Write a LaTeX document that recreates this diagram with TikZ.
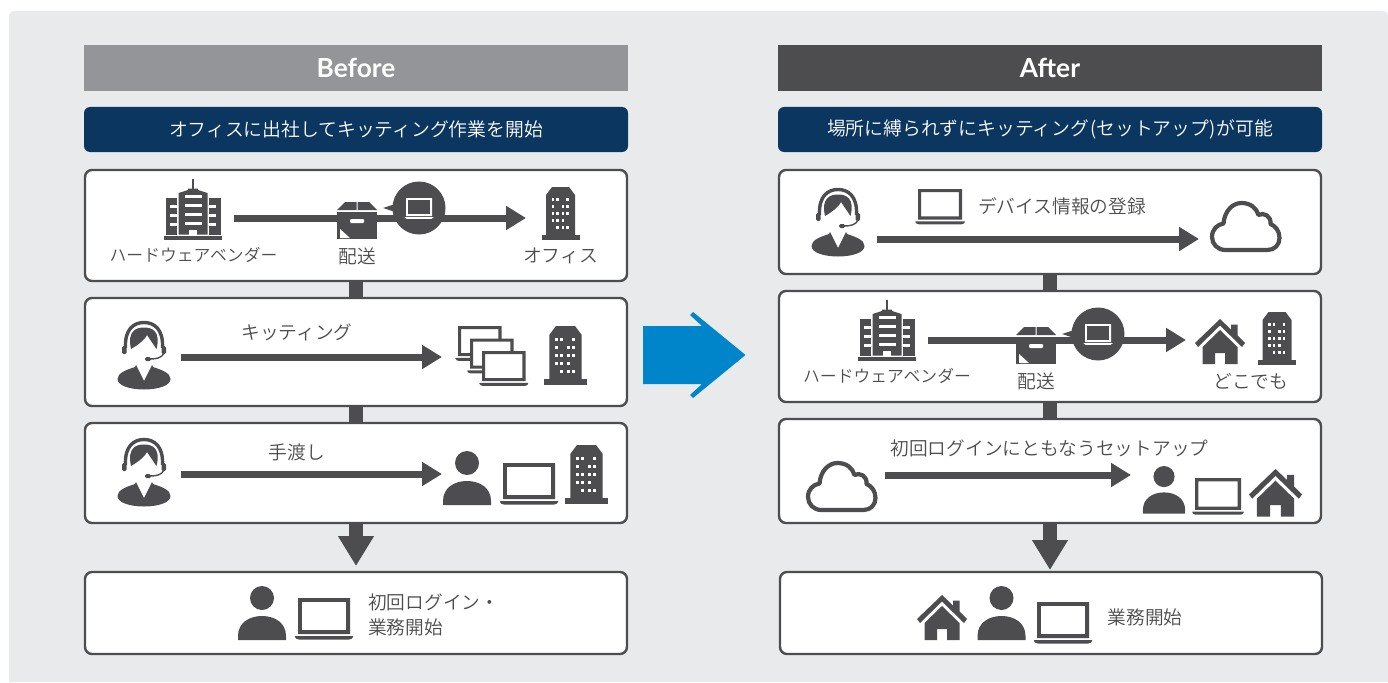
\documentclass[tikz,border=0pt]{standalone}
\usepackage{fontspec}
\usetikzlibrary{arrows.meta}
\newfontfamily\jpf{Noto Sans CJK JP DemiLight}
\newfontfamily\latf{Lato}
\definecolor{ink}{HTML}{4D4D4F}
\definecolor{panel}{HTML}{E9EAEC}
\definecolor{greyhead}{HTML}{939598}
\definecolor{navy}{HTML}{0A3660}
\definecolor{skyblue}{HTML}{0085CA}
\tikzset{
  x=1pt,y=-1pt,
  card/.style={draw=ink,line width=2.4pt,fill=white,rounded corners=7pt,minimum width=542pt,inner sep=0pt},
  headbar/.style={minimum width=544pt,minimum height=46pt,inner sep=0pt,text=white,font=\latf\bfseries\fontsize{26.3}{30}\selectfont},
  subbar/.style={fill=navy,rounded corners=6pt,minimum width=544pt,minimum height=45pt,inner sep=0pt,text=white,font=\jpf\fontsize{18.8}{22}\selectfont},
  lab/.style={text=ink,inner sep=0pt,font=\jpf\fontsize{18.7}{22}\selectfont},
  lablong/.style={text=ink,inner sep=0pt,font=\jpf\fontsize{16.8}{20}\selectfont},
  flow/.style={draw=ink,line width=7pt,-{Triangle[length=20pt,width=23pt]}},
  joint/.style={draw=ink,line width=14pt},
  downflow/.style={draw=ink,line width=14pt,-{Triangle[length=30pt,width=34pt]}},
  pics/iclaptop/.style 2 args={code={
    \fill[#2] (0,0) rectangle (52,36);
    \fill[#1,even odd rule] (0,0) rectangle (52,36) (3.8,3.8) rectangle (48.2,32.2);
    \fill[#1] (-3,38) -- (55,38) -- (55,39) .. controls (54.5,40.5) and (53,41.5) .. (51,41.5) -- (1,41.5) .. controls (-1,41.5) and (-2.5,40.5) .. (-3,39) -- cycle;
  }},
  pics/icperson/.style={code={
    \fill[ink] (0,12) circle (12);
    \fill[ink] (-24,54) -- (-24,50) .. controls (-24,37) and (-13,30) .. (0,30) .. controls (13,30) and (24,37) .. (24,50) -- (24,54) -- cycle;
  }},
  pics/icoperator/.style={code={
    \draw[ink,line width=3.4pt] (-18.5,27) .. controls (-19.5,8) and (-10,1.5) .. (0,1.5) .. controls (10,1.5) and (19.5,8) .. (18.5,27);
    \fill[ink] (-13,28) .. controls (-17,10) and (-8,6.5) .. (0,6.5) .. controls (8,6.5) and (17,10) .. (12.5,28) -- (3,14) .. controls (0,20) and (-8,25) .. (-13,28) -- cycle;
    \fill[ink,rounded corners=1.5pt] (-22,25) rectangle (-17.5,33);
    \fill[ink,rounded corners=1.5pt] (22,25) rectangle (17.5,33);
    \draw[ink,line width=1.4pt] (20,32) .. controls (18,37) and (12,38) .. (6,38);
    \fill[ink,rounded corners=1.5pt] (1,36) rectangle (7,40);
    \fill[ink] (-8,44) -- (0,60) -- (8,44) -- (9,46) .. controls (18,49) and (26.5,52) .. (26.5,58) .. controls (26.5,65) and (13,68.5) .. (0,68.5) .. controls (-13,68.5) and (-26.5,65) .. (-26.5,58) .. controls (-26.5,52) and (-18,49) .. (-9,46) -- cycle;
  }},
  pics/icoffice/.style={code={
    \fill[ink] (-14.5,48) -- (-14.5,8) -- (-8.5,0) -- (8.5,0) -- (14.5,8) -- (14.5,48) -- cycle;
    \fill[ink] (-19,47.5) rectangle (19,52.5);
    \foreach \wx/\wy in {-9/11,-4.5/11,5.5/11,-9/18,1/18,5.5/18,-9/25,-4.5/25,1/25,5.5/25,-9/32,-4.5/32,1/32,-4.5/39,1/39,5.5/39}
      \fill[white] (\wx,\wy) rectangle ++(2.6,2.6);
  }},
  pics/ichotel/.style={code={
    \fill[ink] (-1,0) rectangle (1,10);
    \fill[ink] (-14.5,55.5) -- (-14.5,14) -- (-5,11) -- (-5,9.5) -- (5,9.5) -- (5,11) -- (14.5,14) -- (14.5,55.5) -- cycle;
    \foreach \wy in {16,25,34,43} \fill[white] (-8.5,\wy) rectangle (8.5,\wy+2.6);
    \fill[white] (-4,51) rectangle (4,55.5);
    \foreach \sgn in {-1,1}{
      \fill[ink] (\sgn*16,19) rectangle (\sgn*27.5,55.5);
      \foreach \wy in {26,35,44} \fill[white] (\sgn*16,\wy) rectangle (\sgn*23,\wy+2.6);
    }
    \fill[ink] (-29,57) rectangle (29,60.5);
  }},
  pics/icbox/.style={code={
    \fill[ink] (0,8) -- (8,0) -- (19.5,0) -- (19.5,8) -- cycle;
    \fill[ink] (20.5,8) -- (20.5,0) -- (32,0) -- (40,8) -- cycle;
    \fill[ink] (0,9.5) rectangle (40,37);
    \fill[white,rounded corners=1pt] (13,17) rectangle (27,21);
    \fill[white] (3,27) -- (3,36) -- (13,36) -- cycle;
  }},
  pics/icbubble/.style={code={
    \fill[ink] (0,0) circle (26.5);
    \fill[ink] (-36,0) -- (-24,-4) -- (-24,4) -- cycle;
    \pic[scale=.5] at (-13,-10) {iclaptop={white}{ink}};
  }},
  pics/ichouse/.style={code={
    \fill[ink] (25,0) -- (36,10.5) -- (36,5.5) -- (42.5,5.5) -- (42.5,16.5) -- (50,24) -- (47,28) -- (25,6.5) -- (3,28) -- (0,24) -- cycle;
    \fill[ink] (7.5,45) -- (7.5,28) -- (25,11) -- (42.5,28) -- (42.5,45) -- (30,45) -- (30,34) -- (20,34) -- (20,45) -- cycle;
  }},
  pics/iccloud/.style={code={
    \draw[ink,line width=4.2pt,line join=round] (15,49) .. controls (7,49) and (1.5,43) .. (1.5,36) .. controls (1.5,28) and (7,23.5) .. (13,22.5) .. controls (14,10) and (22,2) .. (31,2) .. controls (40,2) and (46,7) .. (48,14) .. controls (53,11) and (61,15) .. (60,23) .. controls (65,25) and (69,30) .. (69,37) .. controls (69,44) and (64,49) .. (57,49) -- cycle;
  }},
}
\begin{document}
\begin{tikzpicture}
\useasboundingbox (0,0) rectangle (1388,682);
\fill[panel] (9,682) -- (9,17) .. controls (9,13) and (11,11) .. (15,11) -- (1382,11) .. controls (1386,11) and (1388,13) .. (1388,17) -- (1388,682) -- cycle;

% headers
\node[headbar,fill=greyhead] (hb) at (356,68) {Before};
\node[headbar,fill=ink] (ha) at (1050,68) {After};
\node[subbar] (sb) at (356,129.5) {オフィスに出社してキッティング作業を開始};
\node[subbar] (sa) at (1050,129.5) {場所に縛られずにキッティング\kern1pt(セットアップ)\kern1ptが可能};

% cards
\node[card,minimum height=111pt] (b1) at (356,225.5) {};
\node[card,minimum height=108pt] (b2) at (356,352) {};
\node[card,minimum height=100pt] (b3) at (356,473) {};
\node[card,minimum height=82pt] (b4) at (356,613) {};
\node[card,minimum height=104pt] (a1) at (1050,222) {};
\node[card,minimum height=111pt] (a2) at (1050,346.5) {};
\node[card,minimum height=104pt] (a3) at (1050,471) {};
\node[card,minimum height=82pt] (a4) at (1051,613) {};

% joints
\draw[joint] (b1.south) -- (b2.north);
\draw[joint] (b2.south) -- (b3.north);
\draw[joint] (a1.south) -- (a2.north);
\draw[joint] (a2.south) -- (a3.north);
\coordinate (bdown) at (356,566);
\coordinate (adown) at (1050,570);
\draw[downflow] (b3.south) -- (bdown);
\draw[downflow] (a3.south) -- (adown);

% blue arrow
\fill[skyblue] (643,326) -- (702,326) -- (690,315) -- (693,312) -- (745.5,355) -- (693,398) -- (690,395) -- (702,384) -- (643,384) -- cycle;

% Before row 1
\coordinate (f1s) at (234,218); \coordinate (f1e) at (526,218);
\draw[flow] (f1s) -- (f1e);
\pic at (193,179) {ichotel};
\pic at (337,202) {icbox};
\pic at (419,208) {icbubble};
\pic at (560.5,187) {icoffice};
\node[lablong] (t1) at (193.5,255) {ハードウェアベンダー};
\node[lab] (t2) at (357,256) {配送};
\node[lab] (t3) at (560.5,256) {オフィス};

% Before row 2
\coordinate (f2s) at (181,357); \coordinate (f2e) at (442,357);
\draw[flow] (f2s) -- (f2e);
\pic at (144,321) {icoperator};
\node[lab] (t4) at (297,332) {キッティング};
\pic[scale=.84] at (458,326) {iclaptop={ink}{white}};
\pic[scale=.84] at (470,338.5) {iclaptop={ink}{white}};
\pic[scale=.84] at (482,351) {iclaptop={ink}{white}};
\pic[scale=1.12] at (565.5,326) {icoffice};

% Before row 3
\coordinate (f3s) at (181,474); \coordinate (f3e) at (442,474);
\draw[flow] (f3s) -- (f3e);
\pic at (144,438) {icoperator};
\node[lab] (t5) at (297,452) {手渡し};
\pic at (467,451) {icperson};
\pic at (503,463) {iclaptop={ink}{white}};
\pic[scale=1.12] at (586.5,445) {icoffice};

% Before row 4
\pic at (262,586) {icperson};
\pic at (298,598) {iclaptop={ink}{white}};
\node[lab,anchor=west] (t6) at (368,602) {初回ログイン・};
\node[lab,anchor=west] (t7) at (368,627) {業務開始};

% After row 1
\coordinate (g1s) at (877,239); \coordinate (g1e) at (1199,239);
\draw[flow] (g1s) -- (g1e);
\pic at (838,188) {icoperator};
\pic[scale=.85] at (918,189) {iclaptop={ink}{white}};
\node[lab] (t8) at (1062,206) {デバイス情報の登録};
\pic at (1210.5,201) {iccloud};

% After row 2
\coordinate (g2s) at (928,340); \coordinate (g2e) at (1186,340);
\draw[flow] (g2s) -- (g2e);
\pic at (887,300) {ichotel};
\pic at (1016,327) {icbox};
\pic at (1098,334) {icbubble};
\pic at (1195,319) {ichouse};
\pic at (1277,312) {icoffice};
\node[lablong] (t9) at (887,376) {ハードウェアベンダー};
\node[lab] (t10) at (1036,381) {配送};
\node[lab] (t11) at (1251,381) {どこでも};

% After row 3
\coordinate (g3s) at (885,475); \coordinate (g3e) at (1131,475);
\draw[flow] (g3s) -- (g3e);
\pic at (806.5,461) {iccloud};
\node[lab] (t12) at (1049.5,448) {初回ログインにともなうセットアップ};
\pic[scale=.88] at (1164,466) {icperson};
\pic[scale=.885] at (1195,478) {iclaptop={ink}{white}};
\pic[scale=1.06] at (1249,469) {ichouse};

% After row 4
\pic at (917,595) {ichouse};
\pic at (1001.5,586) {icperson};
\pic at (1037,602) {iclaptop={ink}{white}};
\node[lab] (t13) at (1145,617) {業務開始};
\end{tikzpicture}
\end{document}
